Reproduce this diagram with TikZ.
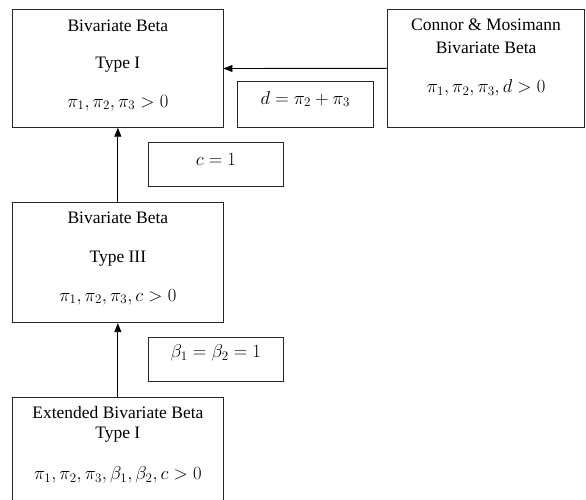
\RequirePackage{fix-cm}
\documentclass[tikz,border=0pt]{standalone}
\usepackage{fontspec}
\setmainfont{Liberation Serif}
\usetikzlibrary{arrows.meta}
\begin{document}
\begin{tikzpicture}[x=1pt,y=-1pt,
  box/.style={draw=black!85,line width=0.9pt,rectangle,inner sep=0pt},
  txt/.style={inner sep=0pt,anchor=center,font=\fontsize{17.5}{20}\selectfont},
  mth/.style={inner sep=0pt,anchor=center,font=\fontsize{18.6}{21}\selectfont},
  arr/.style={line width=0.9pt,-{Triangle[length=9pt,width=7pt]}}]
\useasboundingbox (0,0) rectangle (586,500);
% main boxes
\node[box,minimum width=210.3pt,minimum height=117.6pt] (b1) at (117.85,68.5) {};
\node[box,minimum width=196.8pt,minimum height=118pt] (b2) at (486.1,68.3) {};
\node[box,minimum width=210.3pt,minimum height=120.4pt] (b3) at (117.85,262.5) {};
\node[box,minimum width=210.3pt,minimum height=106pt] (b4) at (117.85,450.3) {};
% label boxes
\node[box,minimum width=136pt,minimum height=45.6pt] (ld) at (305.3,104.5) {};
\node[box,minimum width=135pt,minimum height=43.7pt] (lc) at (215.8,164.2) {};
\node[box,minimum width=135pt,minimum height=44.4pt] (lb) at (215.8,359.5) {};
% texts box 1
\node[txt] (t11) at (117.85,26) {Bivariate Beta};
\node[txt] (t12) at (117.85,65) {Type I};
\node[mth] (t13) at (117.85,103) {$\pi_1,\pi_2,\pi_3>0$};
% texts box 2
\node[txt] (t21) at (486.1,25) {Connor \& Mosimann};
\node[txt] (t22) at (486.1,48) {Bivariate Beta};
\node[mth] (t23) at (486.1,88) {$\pi_1,\pi_2,\pi_3,d>0$};
% texts box 3
\node[txt] (t31) at (117.85,218) {Bivariate Beta};
\node[txt] (t32) at (117.85,259) {Type III};
\node[mth] (t33) at (117.85,297) {$\pi_1,\pi_2,\pi_3,c>0$};
% texts box 4
\node[txt] (t41) at (117.85,413) {Extended Bivariate Beta};
\node[txt] (t42) at (117.85,435) {Type I};
\node[mth] (t43) at (117.85,475) {$\pi_1,\pi_2,\pi_3,\beta_1,\beta_2,c>0$};
% label texts
\node[mth] (td) at (305.3,99) {$d=\pi_2+\pi_3$};
\node[mth] (tc) at (215.8,160) {$c=1$};
\node[mth] (tb) at (215.8,353) {$\beta_1=\beta_2=1$};
% connectors
\draw[arr] (b2.west) -- (b1.east);
\draw[arr] (b3.north) -- (b1.south);
\draw[arr] (b4.north) -- (b3.south);
\end{tikzpicture}
\end{document}
